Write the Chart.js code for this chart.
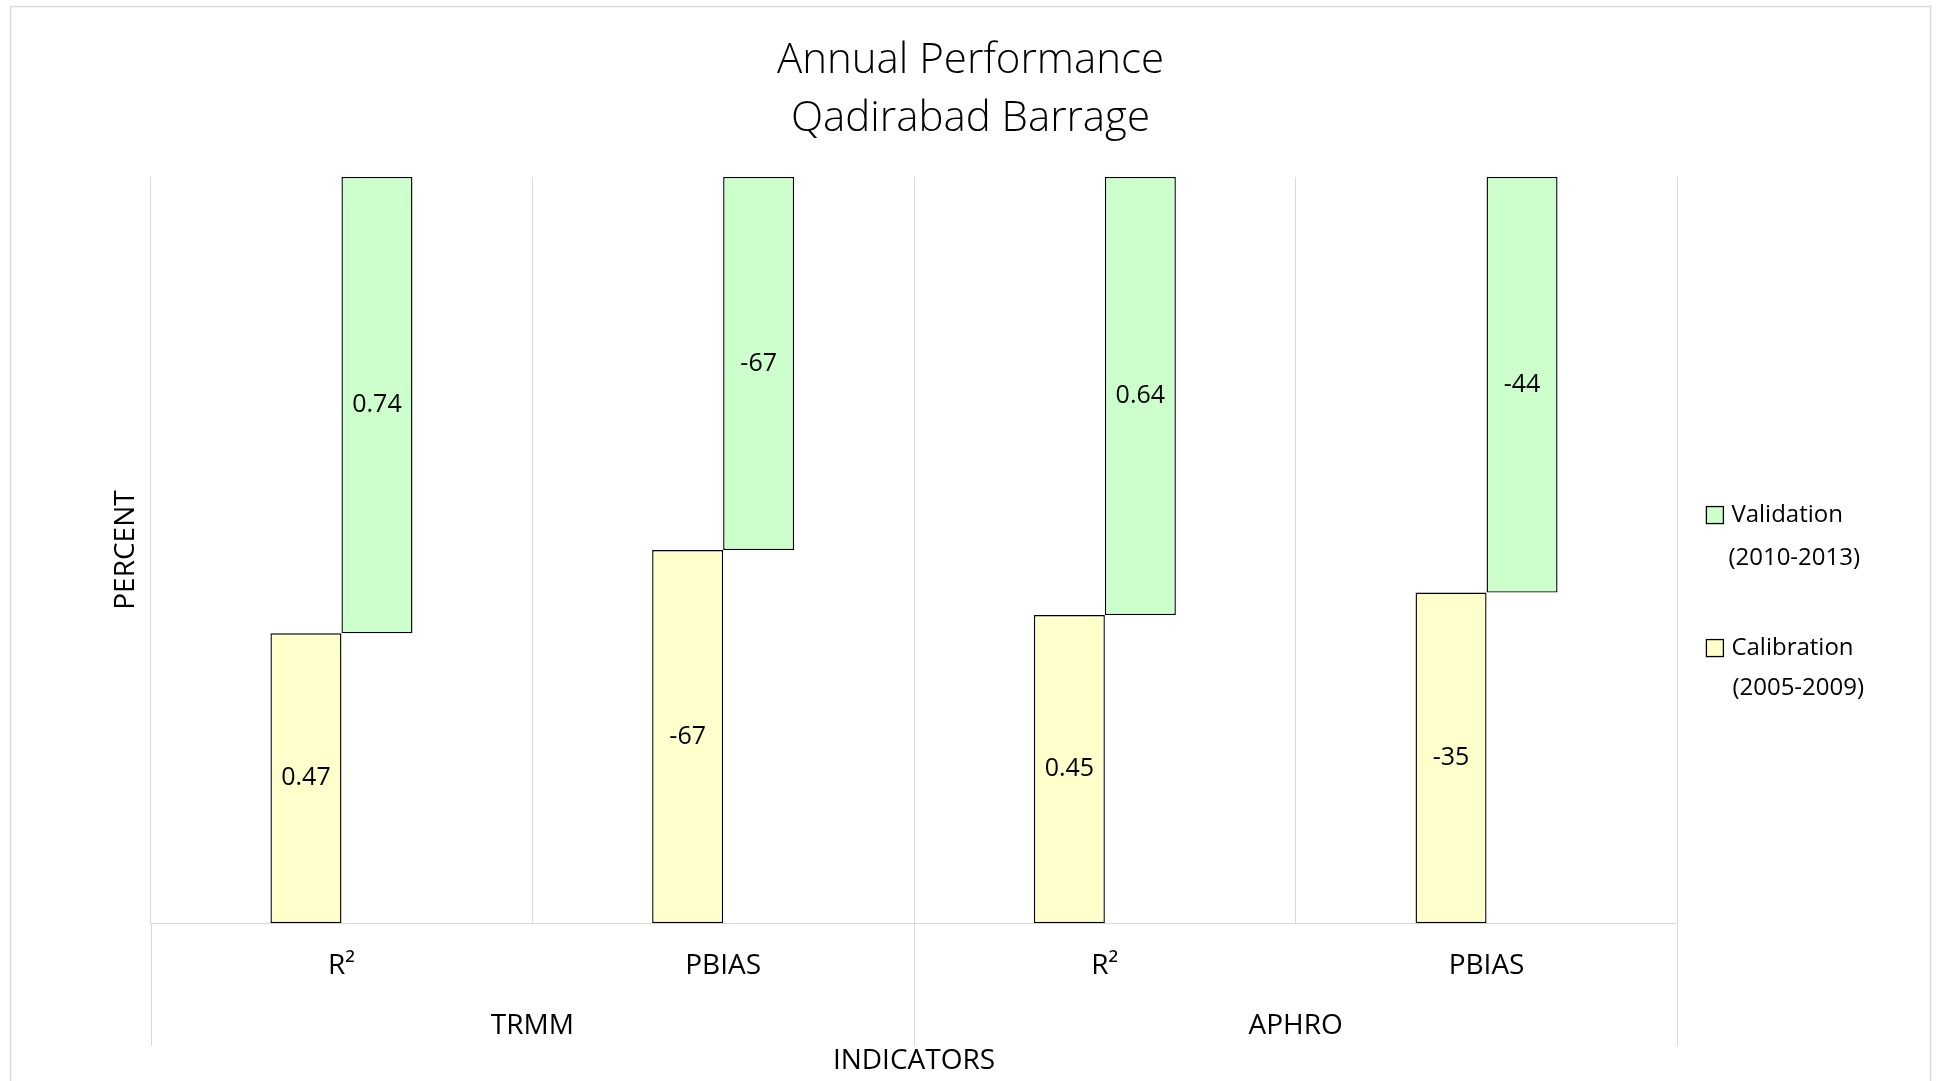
<!DOCTYPE html>
<html>
<head>
<meta charset="utf-8">
<title>Annual Performance - Qadirabad Barrage</title>
<script src="https://cdn.jsdelivr.net/npm/chart.js@4.4.1/dist/chart.umd.min.js"></script>
<style>
  html, body { margin: 0; padding: 0; background: #fff; }
</style>
</head>
<body>
<canvas id="perfChart" width="1941" height="1081"></canvas>
<script>
// indicator per column, and the rainfall product each pair belongs to
const indicators = ['R²', 'PBIAS', 'R²', 'PBIAS'];
const products = ['TRMM', 'APHRO'];

// raw statistics per period
const calibration = [0.47, -67, 0.45, -35];
const validation = [0.74, -67, 0.64, -44];

const seriesNames = ['Calibration', 'Validation'];
const seriesPeriods = ['(2005-2009)', '(2010-2013)'];
const seriesColors = ['#FFFFCC', '#CCFFCC'];

// 100% stacked: each period's share of the column
const calShare = calibration.map((c, i) => Math.abs(c) / (Math.abs(c) + Math.abs(validation[i])) * 100);

const FONT = "'Open Sans', 'Noto Sans', sans-serif";
const GRID = '#d9d9d9';
const axisFont = { family: FONT, size: 28, lineHeight: 1.2 };

const pagePlugin = {
    id: 'page',
    beforeDraw(chart) {
        const ctx = chart.ctx;
        ctx.save();
        ctx.fillStyle = '#fff';
        ctx.fillRect(0, 0, chart.width, chart.height);
        ctx.strokeStyle = GRID;
        ctx.lineWidth = 1.5;
        ctx.strokeRect(10.5, 6.5, 1920, 1100);
        ctx.restore();
    },
    afterDraw(chart) {
        const ctx = chart.ctx;
        const area = chart.chartArea;
        const x = chart.scales.x;
        const x2 = chart.scales.x2;

        // separators between TRMM and APHRO groups, running through the label rows
        const mid = (x.getPixelForValue(1) + x.getPixelForValue(2)) / 2;
        const yEnd = x2.bottom - 35;
        ctx.save();
        ctx.strokeStyle = GRID;
        ctx.lineWidth = 1;
        [area.left, mid, area.right].forEach(px => {
            const sx = Math.round(px) + 0.5;
            ctx.beginPath();
            ctx.moveTo(sx, area.bottom);
            ctx.lineTo(sx, yEnd);
            ctx.stroke();
        });

        // legend on the right, validation first
        const lx = area.right + 29;
        const cy = (area.top + area.bottom) / 2;
        const rows = [
            { i: 1, y: cy - 35, gap: 43 },
            { i: 0, y: cy + 98, gap: 40 }
        ];
        ctx.font = '24px ' + FONT;
        ctx.textBaseline = 'middle';
        ctx.textAlign = 'left';
        rows.forEach(r => {
            ctx.fillStyle = seriesColors[r.i];
            ctx.fillRect(lx, r.y - 8.5, 17, 17);
            ctx.strokeStyle = '#000';
            ctx.lineWidth = 1.3;
            ctx.strokeRect(lx, r.y - 8.5, 17, 17);
            ctx.fillStyle = '#000';
            ctx.fillText(seriesNames[r.i], lx + 25, r.y);
            ctx.fillText(seriesPeriods[r.i], lx + 26 - r.i * 4, r.y + r.gap);
        });
        ctx.restore();
    }
};

// value captions centred inside each bar
const valueLabels = {
    id: 'valueLabels',
    afterDatasetsDraw(chart) {
        const ctx = chart.ctx;
        const raw = [calibration, validation];
        ctx.save();
        ctx.font = '25px ' + FONT;
        ctx.fillStyle = '#000';
        ctx.textAlign = 'center';
        ctx.textBaseline = 'middle';
        chart.data.datasets.forEach((ds, di) => {
            chart.getDatasetMeta(di).data.forEach((bar, i) => {
                ctx.fillText(String(raw[di][i]), bar.x, (bar.y + bar.base) / 2);
            });
        });
        ctx.restore();
    }
};

new Chart(document.getElementById('perfChart'), {
    type: 'bar',
    data: {
        labels: indicators,
        datasets: [
            {
                label: seriesNames[0],
                data: calShare.map(s => [0, s]),
                backgroundColor: seriesColors[0],
                borderColor: '#000',
                borderWidth: 1.4,
                borderSkipped: false
            },
            {
                label: seriesNames[1],
                data: calShare.map(s => [s, 100]),
                backgroundColor: seriesColors[1],
                borderColor: '#000',
                borderWidth: 1.4,
                borderSkipped: false
            }
        ]
    },
    options: {
        responsive: false,
        animation: false,
        categoryPercentage: 0.372,
        barPercentage: 1,
        layout: { padding: 0 },
        plugins: {
            legend: { display: false },
            tooltip: { enabled: false },
            title: {
                display: true,
                text: ['Annual Performance', 'Qadirabad Barrage'],
                color: '#000',
                font: { family: FONT, size: 42, weight: '300', lineHeight: 1.38 },
                padding: { top: 32, bottom: 29 }
            }
        },
        scales: {
            x: {
                grid: { color: GRID, drawTicks: false, offset: true },
                border: { color: GRID },
                ticks: { color: '#000', font: axisFont, padding: 26 }
            },
            x2: {
                type: 'category',
                labels: products,
                position: 'bottom',
                weight: 1,
                offset: true,
                grid: { display: false, drawTicks: false },
                border: { display: false },
                ticks: { color: '#000', font: axisFont, padding: 0 },
                title: {
                    display: true,
                    text: 'INDICATORS',
                    color: '#000',
                    font: axisFont,
                    padding: { top: 2, bottom: 3 }
                }
            },
            y: {
                min: 0,
                max: 100,
                ticks: { display: false },
                grid: { display: false },
                border: { display: false },
                title: {
                    display: true,
                    text: 'PERCENT',
                    color: '#000',
                    font: axisFont,
                    padding: { top: 109, bottom: 0 }
                }
            },
            // empty right-hand axis that keeps room for the legend
            y2: {
                position: 'right',
                ticks: { display: false },
                grid: { display: false },
                border: { display: false },
                title: {
                    display: true,
                    text: '',
                    font: axisFont,
                    padding: { top: 222, bottom: 0 }
                }
            }
        }
    },
    plugins: [pagePlugin, valueLabels]
});
</script>
</body>
</html>
